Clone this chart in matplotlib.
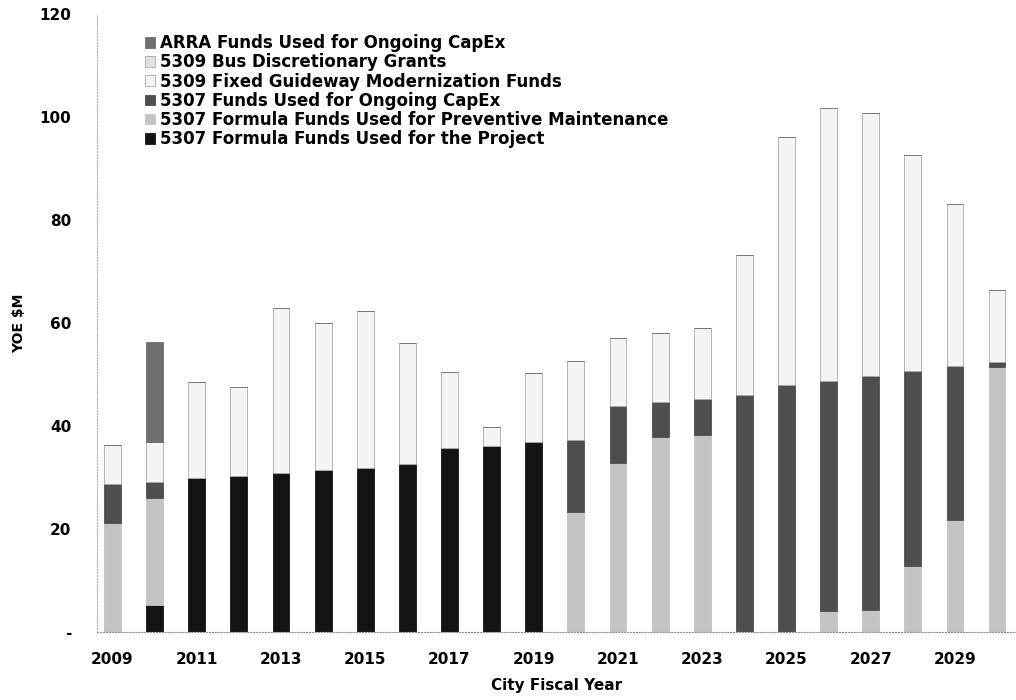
import matplotlib.pyplot as plt
import numpy as np

years = np.arange(2009, 2031)

# YOE $M
project = [0, 5.2, 29.9, 30.3, 30.8, 31.4, 31.9, 32.6, 35.7, 36.1, 36.9,
           0, 0, 0, 0, 0, 0, 0, 0, 0, 0, 0]
prev_maint = [21.2, 20.8, 0, 0, 0, 0, 0, 0, 0, 0, 0,
              23.3, 32.8, 37.9, 38.3, 0, 0, 4.1, 4.3, 12.9, 21.7, 51.5]
capex = [7.5, 3.1, 0, 0, 0, 0, 0, 0, 0, 0, 0,
         14.0, 11.1, 6.8, 7.0, 46.0, 48.0, 44.6, 45.5, 37.7, 29.9, 1.0]
fixed_guideway = [7.6, 7.8, 18.6, 17.3, 32.1, 28.6, 30.4, 23.5, 14.8, 3.7, 13.4,
                  15.3, 13.2, 13.4, 13.8, 27.3, 48.1, 53.1, 51.0, 42.0, 31.6, 13.9]
bus_disc = [0] * 22
arra = [0, 19.4, 0, 0, 0, 0, 0, 0, 0, 0, 0,
        0, 0, 0, 0, 0, 0, 0, 0, 0, 0, 0]

series = [
    ("5307 Formula Funds Used for the Project", project, "#141414"),
    ("5307 Formula Funds Used for Preventive Maintenance", prev_maint, "#c4c4c4"),
    ("5307 Funds Used for Ongoing CapEx", capex, "#4e4e4e"),
    ("5309 Fixed Guideway Modernization Funds", fixed_guideway, "#f4f4f4"),
    ("5309 Bus Discretionary Grants", bus_disc, "#e2e2e2"),
    ("ARRA Funds Used for Ongoing CapEx", arra, "#6e6e6e"),
]

fig = plt.figure(figsize=(10.16, 7.0), dpi=100)
ax = fig.add_axes([0.095, 0.097, 0.905, 0.883])

bottom = np.zeros(len(years))
handles = []
for label, vals, color in series:
    vals = np.array(vals, dtype=float)
    edge = "#a8a8a8" if color in ("#f4f4f4", "#e2e2e2") else color
    b = ax.bar(years, vals, width=0.40, bottom=bottom, color=color,
               edgecolor=edge, linewidth=0.6, label=label)
    handles.append(b)
    bottom += vals

ax.set_xlim(2008.62, 2030.45)
ax.set_ylim(0, 120)
ax.set_yticks([0, 20, 40, 60, 80, 100, 120])
ax.set_yticklabels(["-", "20", "40", "60", "80", "100", "120"])
ax.set_xticks(np.arange(2009, 2031, 2))

for s in ["top", "right"]:
    ax.spines[s].set_visible(False)
ax.spines["left"].set_color("#b0b0b0")
ax.spines["left"].set_linestyle(":")
ax.spines["bottom"].set_color("#909090")
ax.spines["bottom"].set_linestyle(":")

ax.tick_params(axis="y", length=0, pad=18, labelsize=11)
ax.tick_params(axis="x", length=0, pad=14, labelsize=11)
for t in ax.get_xticklabels() + ax.get_yticklabels():
    t.set_fontweight("bold")

ax.set_ylabel("YOE $M", fontsize=10, fontweight="bold", labelpad=10)
ax.set_xlabel("City Fiscal Year", fontsize=11, fontweight="bold", labelpad=8)

leg = ax.legend(handles[::-1], [h.get_label() for h in handles[::-1]],
                loc="upper left", bbox_to_anchor=(0.045, 0.978),
                frameon=False, fontsize=12, handlelength=0.6,
                handleheight=0.6, handletextpad=0.3, labelspacing=0.07,
                borderaxespad=0)
for t in leg.get_texts():
    t.set_fontweight("bold")

fig.savefig("out.png", dpi=100, facecolor="white")
plt.close(fig)
